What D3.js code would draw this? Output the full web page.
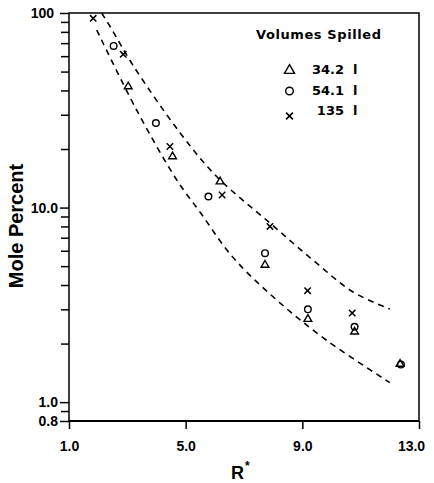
<!DOCTYPE html>
<html><head><meta charset="utf-8">
<script src="https://cdn.jsdelivr.net/npm/d3@7"></script>
<style>body{margin:0;background:#fff} svg{display:block}</style>
</head><body><svg id="c" width="434" height="483"></svg>
<script>
// ---- data ----
const xTicks = [1, 5, 9, 13];
const xTickLabels = ["1.0", "5.0", "9.0", "13.0"];
const yTicks = [0.8, 1, 10, 100];
const yTickLabels = ["0.8", "1.0", "10.0", "100"];
const yMinorTicks = [0.9, 2, 3, 4, 5, 6, 7, 8, 9, 20, 30, 40, 50, 60, 70, 80, 90];
const seriesNames = ["34.2", "54.1", "135"];
const unitLabel = "l";
const triR = [3.03, 4.55, 6.18, 7.72, 9.19, 10.79, 12.35];
const triV = [41.9, 18.3, 13.6, 5.07, 2.67, 2.30, 1.57];
const cirR = [2.53, 3.98, 5.78, 7.72, 9.19, 10.79, 12.38];
const cirV = [67.7, 27.2, 11.4, 5.83, 3.0, 2.44, 1.56];
const crsR = [1.83, 2.86, 4.46, 6.25, 7.89, 9.18, 10.71];
const crsV = [93.9, 61.3, 20.6, 11.6, 8.0, 3.74, 2.87];
const upperR = [2.12, 2.42, 3.19, 4.81, 6.07, 7.89, 9.36, 10.74, 12.0];
const upperV = [100, 84.7, 54.0, 24.2, 14.4, 8.33, 5.38, 3.68, 3.01];
const lowerR = [1.95, 3.32, 4.69, 5.49, 6.62, 8.12, 9.83, 12.0];
const lowerV = [81.8, 31.7, 13.9, 9.49, 5.55, 3.35, 2.08, 1.26];

// ---- layout ----
const svg = d3.select("#c");
const FONT = "'Liberation Sans', Arial, Helvetica, sans-serif";
const LFONT = "'DejaVu Sans', 'Liberation Sans', sans-serif";
const L = 69, R = 419, T = 13, B = 421;
const x = d3.scaleLinear().domain([1, 13]).range([L, R]);
const y = d3.scaleLog().domain([0.8, 100]).range([B, T]);

// frame
svg.append("rect").attr("x", L).attr("y", T).attr("width", R - L).attr("height", B - T)
  .attr("fill", "none").attr("stroke", "#000").attr("stroke-width", 1.5);
svg.append("line").attr("x1", L).attr("x2", R).attr("y1", B).attr("y2", B)
  .attr("stroke", "#000").attr("stroke-width", 2);

// y axis
const gy = svg.append("g").attr("transform", `translate(${L},0)`);
gy.call(d3.axisLeft(y).tickValues(yMinorTicks).tickSize(8).tickFormat(""));
gy.call(g => g.select(".domain").remove());
const gy2 = svg.append("g").attr("transform", `translate(${L},0)`);
gy2.call(d3.axisLeft(y).tickValues(yTicks).tickSize(9).tickPadding(2)
  .tickFormat((d, i) => yTickLabels[i]));
gy2.select(".domain").remove();
svg.selectAll(".tick line").attr("stroke", "#000").attr("stroke-width", 1.5);
gy2.selectAll("text").attr("font-family", FONT).attr("font-weight", "bold")
  .attr("font-size", 14).attr("fill", "#000")
  .attr("dx", (d) => d === 100 ? -4 : 0);

// x axis
const gx = svg.append("g").attr("transform", `translate(0,${B})`);
gx.call(d3.axisBottom(x).tickValues(xTicks).tickSize(8)
  .tickFormat((d, i) => xTickLabels[i]));
gx.select(".domain").remove();
gx.selectAll(".tick line").attr("stroke", "#000").attr("stroke-width", 1.5);
gx.selectAll("text").attr("font-family", FONT).attr("font-weight", "bold")
  .attr("font-size", 14).attr("fill", "#000")
  .attr("y", 30).attr("dy", 0)
  .attr("dx", (d) => d === 13 ? -8 : 0);

// axis titles
svg.append("text").attr("transform", "translate(23,226) rotate(-90)")
  .attr("text-anchor", "middle").attr("font-family", FONT).attr("font-weight", "bold")
  .attr("font-size", 20).text("Mole Percent");
const rt = svg.append("text").attr("x", 231).attr("y", 479)
  .attr("font-family", FONT).attr("font-weight", "bold").attr("font-size", 18);
rt.append("tspan").text("R");
rt.append("tspan").attr("dx", 1).attr("dy", -9).attr("font-size", 12).text("*");

// dashed bands
const line = d3.line().x(d => x(d[0])).y(d => y(d[1])).curve(d3.curveCatmullRom.alpha(0.5));
[[upperR, upperV], [lowerR, lowerV]].forEach(([rs, vs]) => {
  svg.append("path").attr("d", line(rs.map((r, i) => [r, vs[i]])))
    .attr("fill", "none").attr("stroke", "#000").attr("stroke-width", 1.6)
    .attr("stroke-dasharray", "6,5");
});

// markers
function drawTri(g, cx, cy, s) {
  g.append("path").attr("d", d3.symbol().type(d3.symbolTriangle).size(s)())
    .attr("transform", `translate(${cx},${cy})`)
    .attr("fill", "none").attr("stroke", "#000").attr("stroke-width", 1.4);
}
function drawCir(g, cx, cy, r) {
  g.append("circle").attr("cx", cx).attr("cy", cy).attr("r", r)
    .attr("fill", "none").attr("stroke", "#000").attr("stroke-width", 1.4);
}
function drawX(g, cx, cy, h) {
  g.append("path").attr("d", `M${cx - h},${cy - h}L${cx + h},${cy + h}M${cx - h},${cy + h}L${cx + h},${cy - h}`)
    .attr("stroke", "#000").attr("stroke-width", 1.5);
}
const pts = svg.append("g");
triR.forEach((r, i) => drawTri(pts, x(r), y(triV[i]), 26));
cirR.forEach((r, i) => drawCir(pts, x(r), y(cirV[i]), 3.3));
crsR.forEach((r, i) => drawX(pts, x(r), y(crsV[i]), 3.2));

// legend
const lg = svg.append("g");
lg.append("text").attr("x", 256).attr("y", 38.5).attr("font-family", LFONT)
  .attr("font-weight", "bold").attr("font-size", 13)
  .attr("textLength", 125).attr("lengthAdjust", "spacing").text("Volumes Spilled");
const rowsY = [74, 95, 115];
drawTri(lg, 289.5, 70.5, 44);
drawCir(lg, 289.5, 91, 3.8);
drawX(lg, 289.5, 116, 3.4);
seriesNames.forEach((s, i) => {
  lg.append("text").attr("x", 344).attr("y", rowsY[i]).attr("text-anchor", "end")
    .attr("font-family", LFONT).attr("font-weight", "bold").attr("font-size", 13)
    .text(s);
  lg.append("text").attr("x", 353).attr("y", rowsY[i])
    .attr("font-family", LFONT).attr("font-weight", "bold").attr("font-size", 13)
    .text(unitLabel);
});
</script></body></html>
